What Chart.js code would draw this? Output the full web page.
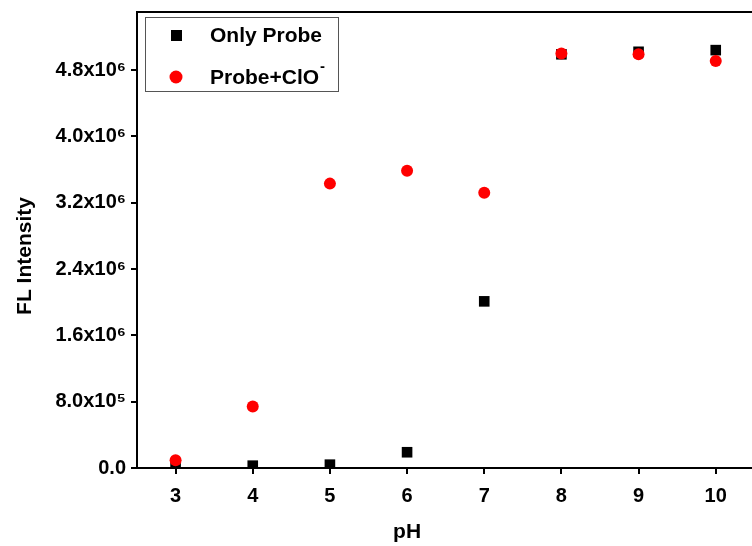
<!DOCTYPE html>
<html>
<head>
<meta charset="utf-8">
<script src="https://cdn.jsdelivr.net/npm/chart.js@4"></script>
<style>
  html, body { margin: 0; padding: 0; background: #fff; }
  #wrap { width: 752px; height: 546px; }
</style>
</head>
<body>
<div id="wrap"><canvas id="grafico"></canvas></div>
<script>
// values
var phValues = [3, 4, 5, 6, 7, 8, 9, 10];
var onlyProbe = [1.0e4, 2.8e4, 4.0e4, 1.9e5, 2.01e6, 4.99e6, 5.02e6, 5.04e6];
var probeClO = [9.3e4, 7.42e5, 3.43e6, 3.585e6, 3.32e6, 5.0e6, 4.99e6, 4.91e6];
var xTicks = [3, 4, 5, 6, 7, 8, 9, 10];
var yTicks = [0, 8e5, 1.6e6, 2.4e6, 3.2e6, 4.0e6, 4.8e6];
var yTickLabels = ['0.0', '8.0x10\u2075', '1.6x10\u2076', '2.4x10\u2076', '3.2x10\u2076', '4.0x10\u2076', '4.8x10\u2076'];

var FONT = '"Liberation Sans", Arial, sans-serif';

function pts(ys) {
  return phValues.map(function (x, i) { return { x: x, y: ys[i] }; });
}

// frame line on top, legend box and axis titles
var extras = {
  id: 'extras',
  afterDraw: function (chart) {
    var c = chart.ctx, a = chart.chartArea;
    c.save();
    c.strokeStyle = '#000';
    c.lineWidth = 2;
    c.beginPath();
    c.moveTo(a.left - 1, a.top);
    c.lineTo(a.right, a.top);
    c.stroke();

    // legend
    c.fillStyle = '#fff';
    c.fillRect(145, 17, 194, 75);
    c.strokeStyle = '#555';
    c.lineWidth = 1;
    c.strokeRect(145.5, 17.5, 193, 74);
    c.fillStyle = '#000';
    c.fillRect(171, 30, 11, 11);
    c.fillStyle = '#ff0000';
    c.beginPath();
    c.arc(176, 77, 6.5, 0, Math.PI * 2);
    c.fill();
    c.fillStyle = '#000';
    c.font = 'bold 21px ' + FONT;
    c.textBaseline = 'middle';
    c.textAlign = 'left';
    c.fillText(chart.data.datasets[1].label, 210, 36);
    var t = 'Probe+ClO';
    c.fillText(t, 210, 78);
    var w = c.measureText(t).width;
    c.font = 'bold 15px ' + FONT;
    c.fillText('-', 210 + w + 1, 67);

    // axis titles
    c.font = 'bold 21px ' + FONT;
    c.textAlign = 'center';
    c.fillText('pH', chart.scales.x.getPixelForValue(6), 532);
    c.translate(25, 256);
    c.rotate(-Math.PI / 2);
    c.fillText('FL Intensity', 0, 0);
    c.restore();
  }
};

var ctx = document.getElementById('grafico').getContext('2d');
var grafico = new Chart(ctx, {
  type: 'scatter',
  data: {
    datasets: [{
      label: 'Probe+ClO\u207B',
      data: pts(probeClO),
      pointStyle: 'circle',
      pointRadius: 6,
      pointHoverRadius: 6,
      backgroundColor: '#ff0000',
      borderColor: '#ff0000',
      borderWidth: 0,
      order: 1
    }, {
      label: 'Only Probe',
      data: pts(onlyProbe),
      pointStyle: 'rect',
      pointRadius: 7.5,
      pointHoverRadius: 7.5,
      backgroundColor: '#000',
      borderColor: '#000',
      borderWidth: 0,
      order: 2
    }]
  },
  options: {
    responsive: true,
    maintainAspectRatio: false,
    animation: false,
    layout: { autoPadding: false, padding: { top: 12, left: 0, right: 0, bottom: 0 } },
    scales: {
      x: {
        type: 'linear',
        min: 2.5,
        max: 10.47,
        afterBuildTicks: function (s) { s.ticks = xTicks.map(function (v) { return { value: v }; }); },
        afterFit: function (s) { s.height = 78; s.paddingLeft = 0; s.paddingRight = 0; },
        grid: { drawOnChartArea: false, drawTicks: true, tickLength: 6, color: '#000', lineWidth: 2 },
        border: { display: true, color: '#000', width: 2 },
        ticks: { color: '#000', padding: 10, font: { family: FONT, size: 20, weight: 'bold' } }
      },
      y: {
        min: 0,
        max: 5.5e6,
        afterBuildTicks: function (s) { s.ticks = yTicks.map(function (v) { return { value: v }; }); },
        afterFit: function (s) { s.width = 137; s.paddingTop = 0; s.paddingBottom = 0; },
        grid: { drawOnChartArea: false, drawTicks: true, tickLength: 6, color: '#000', lineWidth: 2 },
        border: { display: true, color: '#000', width: 2 },
        ticks: {
          color: '#000',
          padding: 5,
          font: { family: FONT, size: 20, weight: 'bold' },
          callback: function (v) {
            var i = yTicks.indexOf(v);
            return i >= 0 ? yTickLabels[i] : '';
          }
        }
      }
    },
    plugins: {
      legend: { display: false },
      tooltip: { enabled: false }
    }
  },
  plugins: [extras]
});
</script>
</body>
</html>
